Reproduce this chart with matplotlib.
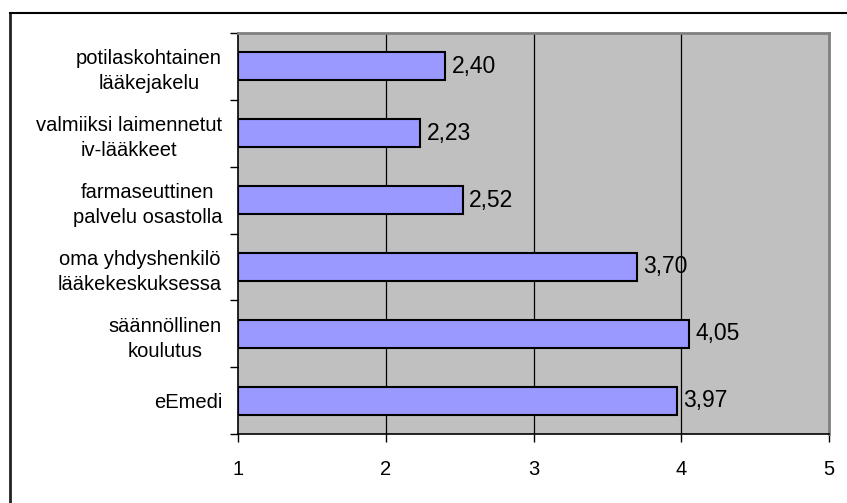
import matplotlib.pyplot as plt
import numpy as np
from matplotlib.lines import Line2D

labels = ["potilaskohtainen\nlääkejakelu",
          "valmiiksi laimennetut\niv-lääkkeet",
          "farmaseuttinen\npalvelu osastolla",
          "oma yhdyshenkilö\nlääkekeskuksessa",
          "säännöllinen\nkoulutus",
          "eEmedi"]
values = [2.40, 2.23, 2.52, 3.70, 4.05, 3.97]
xticks = [1, 2, 3, 4, 5]

plt.rcParams['font.family'] = ['Liberation Sans', 'DejaVu Sans']

fig = plt.figure(figsize=(8.47, 5.03), dpi=100)
ax = fig.add_axes([238 / 847, 1 - 434 / 503, 591 / 847, 401 / 503])
ax.set_facecolor('#C0C0C0')

y = np.arange(len(labels))
vals = np.array(values)
ax.barh(y, vals - 1, left=1, height=0.42, color='#9999FF',
        edgecolor='black', linewidth=1.5, zorder=3)
for yi, v in zip(y, vals):
    ax.text(v + 0.045, yi, ("%.2f" % v).replace('.', ','), va='center',
            ha='left', fontsize=16.5, zorder=4)

ax.set_xlim(1, 5)
ax.set_ylim(len(labels) - 0.5, -0.5)
ax.set_xticks(xticks)
ax.set_xticklabels([str(t) for t in xticks], fontsize=14.5)
ax.set_yticks(y)
ax.set_yticklabels(labels, fontsize=14.5, ha='right', multialignment='center',
                   linespacing=1.4)
ax.set_yticks(np.arange(-0.5, len(labels)), minor=True)
ax.tick_params(axis='y', which='major', length=0, pad=11.5)
ax.tick_params(axis='y', which='minor', length=6, width=1, direction='out')
ax.tick_params(axis='x', length=6, width=1, direction='out', pad=13)

for g in [2, 3, 4]:
    ax.axvline(g, color='black', linewidth=0.9, zorder=1)

ax.spines['left'].set_color('black')
ax.spines['bottom'].set_color('black')
ax.spines['left'].set_linewidth(1.2)
ax.spines['bottom'].set_linewidth(1.2)
ax.spines['top'].set_color('#808080')
ax.spines['right'].set_color('#808080')
ax.spines['top'].set_linewidth(2)
ax.spines['right'].set_linewidth(2)

# outer frame lines (left and top only visible)
fig.add_artist(Line2D([10 / 847, 10 / 847], [0, 1 - 13 / 503], color='#222222', linewidth=2))
fig.add_artist(Line2D([10 / 847, 1], [1 - 13 / 503, 1 - 13 / 503], color='black', linewidth=1.5))

plt.savefig("out.png")
